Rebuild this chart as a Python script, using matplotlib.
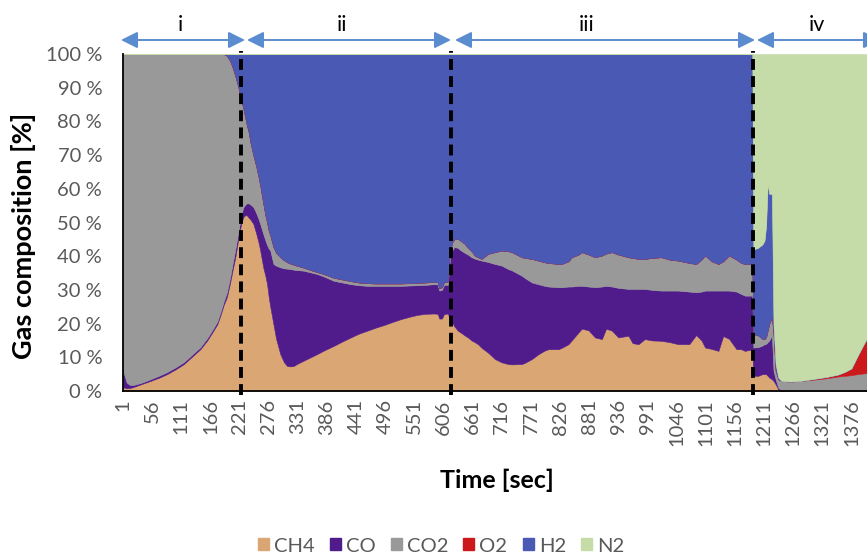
import matplotlib
matplotlib.use("Agg")
import matplotlib.pyplot as plt
from matplotlib.patches import Patch
import numpy as np

plt.rcParams['font.family'] = ['Lato', 'DejaVu Sans']

# Measurement time [s]
time_s = [
    1, 4, 8, 14, 21, 35, 53, 70, 84, 100, 116, 130, 147, 160, 170, 179, 185,
    191, 197, 203, 208, 213, 219, 224, 228, 232, 235, 238, 242, 247, 252, 257,
    260, 266, 270, 273, 276, 279, 285, 290, 298, 305, 311, 317, 323, 329, 342,
    355, 368, 380, 399, 415, 431, 446, 462, 478, 494, 510, 525, 541, 557, 572,
    588, 595, 598, 603, 607, 614, 618, 622,
    626, 633, 639, 646, 652, 659, 665, 671, 678, 690, 703, 716, 728, 735, 754,
    760, 773, 785, 797, 804, 823, 829, 842, 848, 861, 867, 880, 892, 905, 913,
    924, 936, 955, 963, 974, 986, 1000, 1017, 1033, 1049, 1070, 1083, 1093,
    1100, 1112, 1125, 1134, 1145, 1159, 1168, 1175, 1189,
    1191, 1200, 1208, 1212, 1215, 1218, 1221, 1226, 1229, 1233, 1238, 1244,
    1260, 1280, 1301, 1330, 1351, 1364, 1376, 1388, 1398, 1405,
]

ch4 = [
    1.0, 1.0, 0.8, 0.9, 1.2, 2.0, 3.0, 4.0, 5.0, 6.4, 8.0, 10.0, 12.4, 15.0, 17.5, 19.8, 22.5,
    25.5, 27.8, 32.0, 36.0, 39.7, 45.5, 49.5, 51.6, 52.2, 52.1, 51.5, 50.8, 49.6, 47.0, 44.0,
    41.7, 36.5, 34.0, 31.7, 28.0, 25.0, 19.8, 15.5, 10.9, 8.5, 7.4, 7.3, 7.4, 8.0, 9.0,
    10.0, 11.0, 12.0, 13.4, 14.7, 15.9, 17.0, 17.9, 18.8, 19.6, 20.5, 21.3, 22.0, 22.6, 22.9,
    23.0, 22.9, 21.5, 21.5, 22.8, 23.0, 21.5, 20.5,
    19.3, 17.9, 17.3, 16.5, 15.9, 15.0, 14.5, 13.9, 12.8, 11.4, 9.5, 8.5, 8.0, 7.9, 8.0,
    8.4, 9.5, 10.9, 12.0, 12.4, 12.4, 12.8, 13.9, 15.0, 17.4, 18.5, 18.0, 15.9, 15.4, 18.5,
    17.9, 15.9, 16.4, 14.2, 13.9, 15.4, 15.0, 14.9, 14.5, 13.9, 13.9, 16.6, 15.0,
    12.9, 12.5, 11.9, 16.3, 15.5, 12.4, 12.4, 11.9, 12.4,
    4.5, 4.5, 5.0, 5.0, 5.0, 4.5, 4.0, 3.5, 3.0, 2.0, 0.5, 0.0,
    0.0, 0.0, 0.0, 0.0, 0.0, 0.0, 0.0, 0.0, 0.0, 0.0,
]

co = [
    5.5, 3.5, 1.7, 0.9, 0.6, 0.4, 0.5, 0.6, 0.6, 0.6, 0.6, 0.6, 0.6, 0.7, 0.7, 0.8, 0.9,
    1.0, 1.4, 1.5, 1.8, 2.3, 2.0, 2.5, 2.9, 3.1, 3.6, 4.2, 4.5, 5.0, 6.0, 7.0,
    7.9, 10.0, 10.6, 11.6, 14.3, 16.7, 17.9, 21.7, 25.8, 27.9, 28.9, 28.9, 28.6, 27.9, 26.7,
    25.2, 23.7, 22.0, 19.3, 17.5, 15.8, 14.4, 13.3, 12.4, 11.6, 10.7, 9.9, 9.3, 8.8, 8.6,
    8.7, 8.7, 8.3, 8.5, 8.7, 8.5, 17.5, 21.0,
    23.4, 24.6, 24.4, 24.5, 24.6, 24.7, 24.8, 25.1, 25.9, 26.9, 28.2, 28.7, 28.2, 27.9, 26.2,
    25.1, 22.7, 20.8, 19.2, 18.6, 18.4, 18.0, 17.1, 16.0, 13.8, 12.7, 13.0, 14.9, 15.6, 12.7,
    13.1, 14.7, 13.9, 16.1, 16.4, 14.9, 15.0, 14.9, 15.3, 15.9, 15.6, 12.7, 14.5,
    16.9, 17.3, 17.9, 13.5, 14.3, 17.1, 16.4, 16.4, 15.9,
    8.4, 8.5, 8.5, 8.9, 9.0, 10.0, 11.0, 13.0, 3.0, 1.5, 0.5, 0.2,
    0.0, 0.0, 0.0, 0.0, 0.0, 0.0, 0.0, 0.0, 0.0, 0.0,
]

co2 = [
    93.5, 95.5, 97.5, 98.2, 98.2, 97.6, 96.5, 95.4, 94.4, 93.0, 91.4, 89.4, 87.0, 84.3, 81.8, 79.4, 76.6,
    73.5, 70.3, 64.5, 58.2, 51.5, 42.5, 34.5, 29.5, 25.7, 23.1, 21.3, 18.2, 15.4, 14.0, 12.5,
    11.4, 9.0, 7.4, 6.7, 5.3, 4.5, 5.0, 3.8, 3.0, 2.4, 1.9, 1.6, 1.5, 1.3, 0.9,
    0.7, 0.6, 0.7, 0.9, 0.9, 0.9, 0.8, 0.8, 0.7, 0.7, 0.7, 0.7, 0.7, 0.7, 0.7,
    0.7, 0.7, 0.7, 0.8, 0.8, 1.0, 2.0, 2.5,
    2.3, 2.7, 2.8, 2.7, 2.0, 1.8, 0.9, 0.7, 0.5, 2.4, 3.5, 4.5, 5.3, 5.4, 5.5,
    6.0, 7.0, 7.0, 7.0, 7.0, 6.9, 6.9, 7.5, 8.7, 9.3, 10.0, 9.5, 8.9, 9.2, 9.6,
    10.2, 9.9, 9.4, 9.2, 8.9, 8.9, 9.5, 9.9, 9.2, 8.9, 8.5, 8.4, 9.5,
    10.4, 8.7, 7.9, 8.7, 10.4, 9.5, 9.2, 9.4, 9.4,
    4.0, 3.5, 2.0, 1.5, 2.0, 3.5, 5.0, 5.5, 11.0, 2.5, 2.5, 2.8,
    2.8, 3.0, 3.3, 3.8, 4.3, 4.5, 4.7, 5.0, 5.2, 5.3,
]

o2 = [0.0] * 134 + [
    0.0, 0.0, 0.2, 0.4, 0.6, 1.2, 2.0, 5.5, 8.3, 10.2,
]

h2 = [
    0.0, 0.0, 0.0, 0.0, 0.0, 0.0, 0.0, 0.0, 0.0, 0.0, 0.0, 0.0, 0.0, 0.0, 0.0, 0.0, 0.0,
    0.0, 0.5, 2.0, 4.0, 6.5, 10.0, 13.5, 16.0, 19.0, 21.2, 23.0, 26.5, 30.0, 33.0, 36.5,
    39.0, 44.5, 48.0, 50.0, 52.4, 53.8, 57.3, 59.0, 60.3, 61.2, 61.8, 62.2, 62.5, 62.8, 63.4,
    64.1, 64.7, 65.3, 66.4, 66.9, 67.4, 67.8, 68.0, 68.1, 68.1, 68.1, 68.1, 68.0, 67.9, 67.8,
    67.6, 67.7, 69.5, 69.2, 67.7, 67.5, 59.0, 56.0,
    55.0, 54.8, 55.5, 56.3, 57.5, 58.5, 59.8, 60.3, 60.8, 59.3, 58.8, 58.3, 58.5, 58.8, 60.3,
    60.5, 60.8, 61.3, 61.8, 62.0, 62.3, 62.3, 61.5, 60.3, 59.5, 58.8, 59.5, 60.3, 59.8, 59.2,
    58.8, 59.5, 60.3, 60.5, 60.8, 60.8, 60.5, 60.3, 61.0, 61.3, 62.0, 62.3, 61.0,
    59.8, 61.5, 62.3, 61.5, 59.8, 61.0, 62.0, 62.3, 62.3,
    25.1, 26.0, 28.0, 29.2, 33.0, 43.5, 38.5, 36.5, 3.0, 2.0, 0.5, 0.0,
    0.0, 0.0, 0.0, 0.0, 0.0, 0.0, 0.0, 0.0, 0.0, 0.0,
]

n2 = [0.0] * 122 + [
    58.0, 57.5, 56.5, 55.4, 51.0, 38.5, 41.5, 41.5, 80.0, 92.0, 96.0, 97.0,
    97.2, 97.0, 96.5, 95.8, 95.1, 94.3, 93.3, 89.5, 86.5, 84.5,
]

gas_names = ["CH4", "CO", "CO2", "O2", "H2", "N2"]
gas_colors = ["#DAA674", "#501B8B", "#999999", "#CC1A1C", "#4A59B4", "#C5DCA9"]

tick_times = list(range(1, 1377, 55))
phase_labels = ["i", "ii", "iii", "iv"]
phase_bounds = [224.7, 619.5, 1190.6]

# 100 % stacked composition
series = np.array([ch4, co, co2, o2, h2, n2], dtype=float)
series = series / series.sum(axis=0) * 100.0
t = np.array(time_s, dtype=float)

W, H = 867, 556
fig = plt.figure(figsize=(W / 100, H / 100), dpi=100)
ax = fig.add_axes([123 / W, (H - 391) / H, (W - 123) / W, (391 - 54) / H])

polys = ax.stackplot(t, *series, colors=gas_colors, linewidth=0.4)
for p, c in zip(polys, gas_colors):
    p.set_edgecolor(c)

ax.set_xlim(1, 1405.5)
ax.set_ylim(0, 100)

grey = "#595959"
ax.set_xticks(tick_times)
ax.set_xticklabels([str(v) for v in tick_times], rotation=90, color=grey, fontsize=14.5)
ax.set_yticks(range(0, 101, 10))
ax.set_yticklabels([f"{v} %" for v in range(0, 101, 10)], color=grey, fontsize=14.5)
ax.tick_params(axis="x", length=0, pad=6)
ax.tick_params(axis="y", length=0, pad=15)

for side in ("top", "right"):
    ax.spines[side].set_visible(False)
for side in ("left", "bottom"):
    ax.spines[side].set_color("black")
    ax.spines[side].set_linewidth(1.3)
    ax.spines[side].set_zorder(5)

for xb in phase_bounds:
    ax.axvline(xb, ymin=-0.012, ymax=1.01, color="black", lw=2.8,
               linestyle=(0, (2.8, 1.6)), clip_on=False, zorder=6)

# phase arrows along the top
arrow_y = H - 40
arrow_spans = [(121, 245), (247, 451), (455, 755), (757, 880)]
label_x = [180, 342, 587, 817]
for (x0, x1), lx, lab in zip(arrow_spans, label_x, phase_labels):
    ax.annotate("", xy=(x1, arrow_y), xytext=(x0, arrow_y),
                xycoords="figure pixels", textcoords="figure pixels",
                arrowprops=dict(arrowstyle="<|-|>,head_length=1.0,head_width=0.5",
                                color="#5B8CD0", lw=1.4, shrinkA=0, shrinkB=0))
    fig.text(lx / W, (H - 25) / H, lab, ha="center", va="center",
             fontsize=15.5, color="black")

fig.text(24 / W, (H - 236) / H, "Gas composition [%]", rotation=90,
         ha="center", va="center", fontsize=19.5, fontweight="bold")
fig.text(497 / W, (H - 480) / H, "Time [sec]", ha="center", va="center",
         fontsize=18, fontweight="bold")

handles = [Patch(facecolor=c, edgecolor=c) for c in gas_colors]
fig.legend(handles, gas_names, loc="center", bbox_to_anchor=(441 / W, (H - 546) / H),
           ncol=6, frameon=False, fontsize=14.5, labelcolor=grey,
           handlelength=0.55, handleheight=0.55, handletextpad=0.25,
           columnspacing=0.75)

fig.savefig("out.png", dpi=100)
